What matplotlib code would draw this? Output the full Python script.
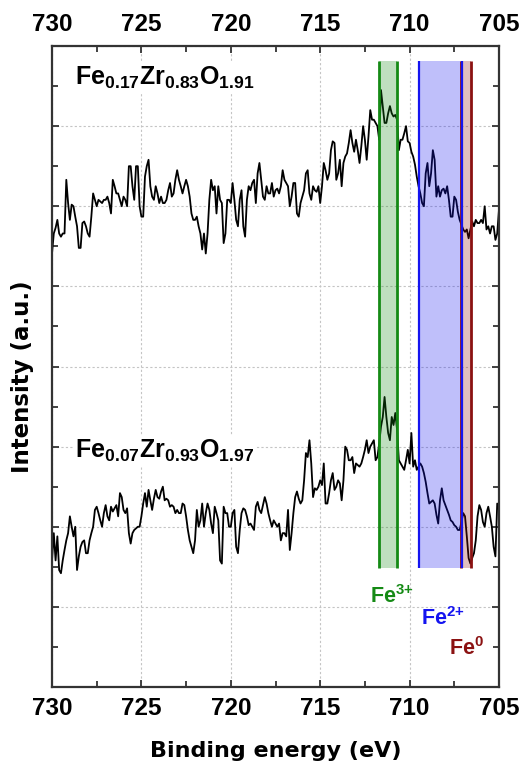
import numpy as np
import matplotlib
matplotlib.use("Agg")
import matplotlib.pyplot as plt
from matplotlib.ticker import MultipleLocator

plt.rcParams['font.family'] = ['Liberation Sans', 'DejaVu Sans']
plt.rcParams['font.weight'] = 'bold'
plt.rcParams['mathtext.fontset'] = 'custom'
plt.rcParams['mathtext.rm'] = 'Liberation Sans:bold'
plt.rcParams['mathtext.it'] = 'Liberation Sans:bold'
plt.rcParams['mathtext.bf'] = 'Liberation Sans:bold'
plt.rcParams['mathtext.sf'] = 'Liberation Sans:bold'
plt.rcParams['mathtext.default'] = 'rm'

# ---------------- data (0.1 eV steps) ----------------
intensity_fe017 = [
    5.41, 5.66, 5.73, 5.83, 5.66, 5.62, 5.66, 5.66, 6.33, 6.04,
    5.83, 6.02, 6.00, 5.87, 5.75, 5.48, 5.48, 5.79, 5.81, 5.75,
    5.66, 5.62, 5.87, 6.16, 6.08, 6.00, 6.08, 6.06, 6.04, 6.08,
    6.08, 6.12, 6.04, 5.91, 6.33, 6.25, 6.16, 6.16, 6.08, 6.00,
    6.12, 6.08, 6.00, 6.50, 6.50, 6.25, 6.08, 6.50, 6.50, 6.00,
    5.87, 5.87, 6.37, 6.50, 6.58, 6.25, 6.12, 6.08, 6.25, 6.16,
    6.04, 6.12, 6.04, 6.04, 6.08, 6.20, 6.29, 6.12, 6.16, 6.33,
    6.45, 6.33, 6.25, 6.16, 6.25, 6.33, 6.25, 6.12, 5.91, 5.83,
    5.83, 5.87, 5.75, 5.66, 5.46, 5.66, 5.41, 5.66, 6.08, 6.33,
    6.20, 6.25, 5.91, 6.25, 6.08, 6.04, 5.54, 5.66, 6.08, 6.08,
    6.04, 6.29, 6.08, 5.83, 5.75, 6.08, 6.20, 5.75, 5.62, 6.08,
    6.25, 6.20, 6.29, 6.33, 6.04, 6.41, 6.54, 6.33, 6.12, 6.08,
    6.25, 6.16, 6.16, 6.29, 6.12, 6.20, 6.22, 6.16, 6.25, 6.45,
    6.33, 6.29, 6.25, 6.00, 6.12, 6.29, 6.29, 5.91, 5.87, 6.04,
    6.12, 6.20, 6.41, 6.45, 6.16, 6.08, 6.25, 6.20, 6.18, 6.25,
    6.04, 6.25, 6.54, 6.45, 6.33, 6.41, 6.70, 6.81, 6.79, 6.33,
    6.41, 6.58, 6.25, 6.54, 6.62, 6.66, 6.79, 6.95, 6.79, 6.68,
    6.83, 6.70, 6.54, 6.75, 7.00, 6.83, 6.58, 6.87, 7.20, 7.08,
    7.08, 7.04, 7.00, 6.83, 7.45, 7.25, 7.04, 7.04, 7.16, 7.25,
    7.16, 7.12, 7.14, 7.08, 6.70, 6.83, 6.83, 6.91, 7.00, 6.81,
    6.79, 6.68, 6.62, 6.52, 6.37, 6.25, 6.16, 6.04, 6.00, 6.41,
    6.54, 6.25, 6.41, 6.70, 6.58, 6.12, 6.25, 6.12, 6.20, 6.22,
    6.16, 6.25, 6.08, 5.87, 5.87, 6.12, 6.08, 5.93, 5.83, 5.77,
    5.71, 5.68, 5.71, 5.60, 5.71, 5.81, 5.75, 5.83, 5.79, 5.79,
    5.83, 5.79, 6.00, 5.71, 5.75, 5.66, 5.75, 5.75, 5.58, 5.66,
    5.96,
]
intensity_fe007 = [
    1.58, 1.92, 1.58, 1.88, 1.46, 1.42, 1.58, 1.71, 1.83, 1.92,
    2.13, 2.00, 1.88, 2.00, 1.46, 1.63, 1.75, 1.81, 1.83, 1.67,
    1.67, 1.83, 1.92, 2.00, 2.21, 2.25, 2.17, 2.08, 2.00, 2.17,
    2.27, 2.13, 2.08, 2.25, 2.19, 2.23, 2.27, 2.13, 2.42, 2.37,
    2.21, 2.17, 2.23, 1.92, 1.79, 1.92, 1.96, 1.98, 2.00, 2.00,
    2.13, 2.29, 2.42, 2.25, 2.46, 2.33, 2.21, 2.35, 2.46, 2.37,
    2.35, 2.44, 2.50, 2.33, 2.35, 2.33, 2.25, 2.27, 2.25, 2.17,
    2.21, 2.17, 2.17, 2.29, 2.27, 2.13, 1.96, 1.83, 1.75, 1.67,
    1.83, 2.21, 2.00, 2.08, 2.29, 2.00, 2.17, 2.29, 2.21, 2.04,
    1.92, 2.25, 2.17, 2.08, 1.58, 1.54, 2.25, 2.17, 2.17, 2.00,
    2.00, 2.17, 2.21, 1.75, 1.67, 1.96, 2.17, 2.23, 2.21, 2.13,
    2.02, 2.04, 2.00, 1.96, 2.25, 2.31, 2.21, 2.17, 2.27, 2.37,
    2.29, 2.17, 2.08, 2.00, 2.08, 2.04, 2.00, 2.04, 1.83, 1.92,
    1.92, 1.88, 2.21, 1.71, 1.92, 2.17, 2.37, 2.44, 2.35, 2.29,
    2.33, 2.58, 2.92, 2.87, 3.08, 2.79, 2.37, 2.48, 2.46, 2.50,
    2.58, 2.52, 2.79, 2.29, 2.29, 2.42, 2.58, 2.67, 2.46, 2.50,
    2.58, 2.54, 2.33, 2.58, 3.00, 2.96, 2.83, 2.83, 2.87, 2.67,
    2.79, 2.77, 2.75, 2.79, 2.87, 2.96, 3.08, 2.92, 3.00, 3.04,
    3.08, 2.83, 2.87, 3.04, 3.25, 3.37, 3.62, 3.37, 3.17, 3.08,
    3.37, 3.27, 3.42, 3.21, 2.83, 2.79, 2.75, 2.71, 2.83, 2.96,
    2.79, 3.17, 2.75, 2.83, 2.71, 2.75, 2.79, 2.75, 2.67, 2.56,
    2.42, 2.29, 2.31, 2.33, 2.29, 2.15, 2.04, 2.33, 2.48, 2.33,
    2.27, 2.21, 2.15, 2.08, 2.06, 2.02, 2.00, 1.96, 1.96, 2.06,
    2.17, 2.13, 1.88, 1.61, 1.54, 1.61, 1.67, 1.83, 2.13, 2.27,
    2.21, 2.06, 2.00, 2.17, 2.25, 2.13, 2.00, 1.75, 1.63, 2.29,
    2.21,
]
# spectra sampled on a uniform binding-energy grid from 730 to 705 eV
energy = np.linspace(730, 705, len(intensity_fe017))

sample_labels = [r'Fe$_{0.17}$Zr$_{0.83}$O$_{1.91}$',
                 r'Fe$_{0.07}$Zr$_{0.93}$O$_{1.97}$']
sample_label_pos = [(728.7, 7.52), (728.7, 2.86)]

band_names = [r'Fe$^{3{+}}$', r'Fe$^{2{+}}$', r'Fe$^{0}$']
band_low = [710.70, 707.05, 706.55]
band_high = [711.70, 709.45, 707.15]
band_bottom, band_top = 1.49, 7.81
band_colors = ['#158a15', '#1414f0', '#8b1212']
band_label_pos = [(712.2, 1.05), (709.35, 0.77), (707.8, 0.40)]

x_ticks = [730, 725, 720, 715, 710, 705]

# ---------------- figure ----------------
fig = plt.figure(figsize=(5.24, 7.64), dpi=100)
ax = fig.add_axes([52 / 524, 77 / 764, 447 / 524, 641 / 764])

ax.plot(energy, intensity_fe017, color='black', lw=1.3, zorder=2)
ax.plot(energy, intensity_fe007, color='black', lw=1.3, zorder=2)

# bands: draw Fe0 first so the Fe2+ edge sits next to it
for i in [2, 1, 0]:
    lo, hi, c = band_low[i], band_high[i], band_colors[i]
    ax.fill_between([lo, hi], band_bottom, band_top, color=c, alpha=0.27,
                    lw=0, zorder=3)
    lw = 1.6 if i == 1 else 2.0
    ax.vlines([lo, hi], band_bottom, band_top, colors=c, lw=lw, zorder=4)
    ax.text(band_label_pos[i][0], band_label_pos[i][1], band_names[i],
            color=c, fontsize=15.5, fontweight='bold', ha='left',
            va='baseline', zorder=5)

for lab, (xx, yy) in zip(sample_labels, sample_label_pos):
    ax.text(xx, yy, lab, fontsize=18, fontweight='bold', ha='left',
            va='baseline', zorder=5,
            bbox=dict(facecolor='white', edgecolor='none', pad=1.5))

ax.set_xlim(730, 705)
ax.set_ylim(0, 8)
ax.set_xticks(x_ticks)
ax.xaxis.set_minor_locator(MultipleLocator(2.5))
ax.yaxis.set_major_locator(MultipleLocator(1))
ax.yaxis.set_minor_locator(MultipleLocator(0.5))

ax.tick_params(axis='x', which='both', direction='in', top=True, bottom=True,
               labeltop=True, labelbottom=True, pad=7, labelsize=17.5,
               color='#333333', width=1.3)
ax.tick_params(axis='y', which='both', direction='in', left=True, right=True,
               labelleft=False, color='#333333', width=1.3)
ax.tick_params(which='major', length=5)
ax.tick_params(which='minor', length=4)
for tick in ax.xaxis.get_major_ticks():
    for lab in (tick.label1, tick.label2):
        lab.set_fontfamily('Liberation Sans')
        lab.set_fontweight('bold')

ax.set_axisbelow(True)
ax.grid(True, which='major', color='#c4c4c4', linestyle=(0, (2, 2)), lw=0.8)
for s in ax.spines.values():
    s.set_color('#333333')
    s.set_linewidth(1.6)

fig.text(275.5 / 524, 1 - 757 / 764, 'Binding energy (eV)', ha='center',
         va='baseline', fontsize=16, fontweight='bold', family='DejaVu Sans')
fig.text(23 / 524, 1 - 377 / 764, 'Intensity (a.u.)', ha='center',
         va='center', rotation=90, fontsize=16.5, fontweight='bold',
         family='DejaVu Sans')

fig.savefig('out.png', dpi=100)
